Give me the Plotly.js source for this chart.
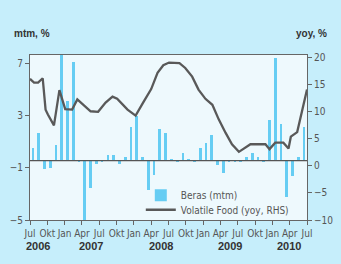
<!DOCTYPE html>
<html><head><meta charset="utf-8">
<script src="https://cdn.plot.ly/plotly-3.0.1.min.js"></script>
<style>html,body{margin:0;padding:0;background:#c6eefb;}#chart{width:341px;height:264px;}</style>
</head><body><div id="chart"></div>
<script>
// Beras (mtm, %) monthly, Jul 2006 .. Jun 2010 (bar length from the chart baseline)
const berasMtm = [1.0, 2.1, -0.67, -0.56, 1.23, 8.1, 4.6, 7.6, -0.1, -4.6, -2.1, -0.3,
  -0.15, 0.46, 0.46, -0.25, 0.25, 2.6, 3.4, 0.3, -2.25, -1.08, 2.46, 2.15,
  0.15, -0.1, 0.56, 0.15, -0.1, 1.0, 1.33, 2.0, -0.36, -0.98, -0.15, -0.15,
  -0.1, 0.3, 0.6, 0.25, -0.1, 3.1, 7.9, 2.8, -2.8, -1.2, 0.25, 2.6];
// Volatile Food (yoy, %) — time in months since Jul 2006, and value
const vfMonth = [0, 0.7, 1.4, 2.2, 2.7, 3.1, 4.15, 5.1, 6.1, 7.3, 8.2, 9.3, 10.5, 11.8,
  13.1, 14.3, 15.1, 16.9, 18.3, 19.6, 21.0, 22.1, 23.1, 24.1, 25.9, 26.9, 28.1, 29.2,
  30.4, 31.6, 32.7, 33.9, 35.0, 36.2, 37.0, 38.2, 39.3, 40.8, 41.5, 42.5, 43.9, 44.8,
  45.2, 46.3, 48.0];
const vfYoy = [16.1, 15.4, 15.4, 16.2, 10.4, 9.5, 7.5, 14.0, 10.5, 10.4, 12.3, 11.3, 10.1, 10.0,
  11.7, 12.8, 12.4, 10.4, 9.3, 11.7, 14.2, 17.2, 18.6, 19.1, 19.0, 18.1, 16.5, 14.1,
  12.4, 11.3, 8.6, 6.1, 4.0, 2.6, 3.1, 4.0, 4.0, 4.0, 3.1, 4.3, 4.3, 3.2,
  5.4, 6.25, 14.1];
const tickLabels = ["Jul","Okt","Jan","Apr","Jul","Okt","Jan","Apr","Jul","Okt","Jan","Apr","Jul","Okt","Jan","Apr","Jul"];
const years = ["2006","2007","2008","2009","2010"];

const NARROW = "'Liberation Sans Narrow','DejaVu Sans Condensed','Arial Narrow','Liberation Sans',sans-serif";
const SANS = "'Liberation Sans',Arial,sans-serif";
const BASE = -0.43;
const YL = [-5, 7.68];
const basePos = (BASE - YL[0]) / (YL[1] - YL[0]);
const barX = berasMtm.map((v, i) => i + 0.5);
const tickVals = tickLabels.map((t, i) => i * 3);
const yearX = [1.3, 10.6, 22.7, 34.7, 44.9];

const traces = [
  {type: 'bar', name: 'Beras (mtm)', x: barX, y: berasMtm, base: BASE, width: 0.47,
   xaxis: 'x', yaxis: 'y', legend: 'legend', marker: {color: '#66cdf3', line: {width: 0}}},
  {type: 'scatter', mode: 'lines', name: 'Volatile Food (yoy, RHS)', x: vfMonth, y: vfYoy,
   xaxis: 'x', yaxis: 'y2', legend: 'legend2', line: {color: '#595959', width: 2.3}}
];

const tickfont = {family: NARROW, size: 10, color: '#555'};
const legfont = {family: NARROW, size: 10, color: '#555'};
const layout = {
  width: 341, height: 264,
  margin: {l: 30, r: 34, t: 55, b: 44},
  paper_bgcolor: '#c6eefb', plot_bgcolor: '#eef9fd',
  showlegend: true, bargap: 0,
  xaxis: {range: [0, 48], tickvals: tickVals, ticktext: tickLabels, tickangle: 0, ticks: 'outside', ticklen: 4,
    tickcolor: '#666', showline: true, linecolor: '#666', linewidth: 1, mirror: true,
    showgrid: false, zeroline: false, tickfont: tickfont, anchor: 'y'},
  xaxis2: {range: [0, 48], overlaying: 'x', anchor: 'free', position: basePos, tickvals: tickVals,
    ticks: 'outside', ticklen: 3, tickcolor: '#555', showticklabels: false, showline: true,
    linecolor: '#555', linewidth: 1.3, showgrid: false, zeroline: false},
  yaxis: {range: YL, tickvals: [-5, -1, 3, 7], ticks: 'outside', ticklen: 4, tickcolor: '#666',
    showline: true, linecolor: '#666', showgrid: false, zeroline: false, tickfont: tickfont},
  yaxis2: {range: [-10, 20.5], overlaying: 'y', side: 'right', anchor: 'x',
    tickvals: [-10, -5, 0, 5, 10, 15, 20], ticks: 'outside', ticklen: 4, tickcolor: '#666',
    showline: true, linecolor: '#666', showgrid: false, zeroline: false, tickfont: tickfont},
  legend: {x: 0.40, y: 0.15, xanchor: 'left', yanchor: 'middle', bgcolor: 'rgba(0,0,0,0)',
    font: legfont, itemwidth: 30},
  legend2: {x: 0.40, y: 0.062, xanchor: 'left', yanchor: 'middle', bgcolor: 'rgba(0,0,0,0)',
    font: legfont, itemwidth: 30},
  shapes: [{type: 'line', xref: 'paper', yref: 'y', x0: 0, x1: 1, y0: BASE, y1: BASE,
    line: {color: '#555', width: 1.3}}],
  annotations: [
    {text: 'mtm, %', xref: 'paper', yref: 'paper', x: -0.065, y: 1.133, xanchor: 'left', yanchor: 'middle',
     showarrow: false, font: {family: SANS, size: 10, color: '#333', weight: 'bold'}},
    {text: 'yoy, %', xref: 'paper', yref: 'paper', x: 1.079, y: 1.133, xanchor: 'right', yanchor: 'middle',
     showarrow: false, font: {family: SANS, size: 10, color: '#333', weight: 'bold'}}
  ].concat(years.map((yr, i) => ({text: yr, xref: 'x', yref: 'paper', x: yearX[i], y: -0.158,
     xanchor: 'center', yanchor: 'middle', showarrow: false,
     font: {family: SANS, size: 11, color: '#333', weight: 'bold'}})))
};
Plotly.newPlot('chart', traces, layout, {displayModeBar: false, staticPlot: true});
</script></body></html>
